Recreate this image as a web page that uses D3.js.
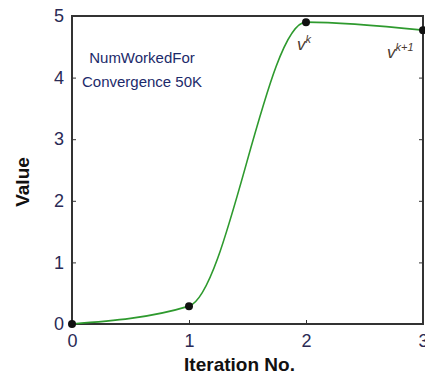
<!DOCTYPE html>
<html>
<head>
<meta charset="utf-8">
<script src="https://cdn.jsdelivr.net/npm/d3@7"></script>
<style>
  body { margin: 0; background: #fff; }
  text { font-family: Arial, "Liberation Sans", sans-serif; }
</style>
</head>
<body>
<div id="chart"></div>
<script>
// data
const iterations = [0, 1, 2, 3];
const values = [0, 0.29, 4.9, 4.77];
const xTicks = [0, 1, 2, 3];
const yTicks = [0, 1, 2, 3, 4, 5];
const pointLabels = [{ i: 2, base: "v", sup: "k" }, { i: 3, base: "v", sup: "k+1" }];
const noteLines = ["NumWorkedFor", "Convergence 50K"];

const width = 425, height = 378;
const margin = { top: 16, right: 2, bottom: 54, left: 72 };
const w = width - margin.left - margin.right;
const h = height - margin.top - margin.bottom;

const svg = d3.select("#chart").append("svg")
  .attr("width", width)
  .attr("height", height);

const g = svg.append("g")
  .attr("transform", "translate(" + margin.left + "," + margin.top + ")");

const x = d3.scaleLinear().domain([0, 3]).range([0, w]);
const y = d3.scaleLinear().domain([0, 5]).range([h, 0]);

const tickColor = "#2a2a55";

// frame
g.append("rect")
  .attr("width", w).attr("height", h)
  .attr("fill", "none").attr("stroke", "#333").attr("stroke-width", 2);

// x axis (ticks inward)
const xAxis = g.append("g")
  .attr("transform", "translate(0," + h + ")")
  .call(d3.axisBottom(x).tickValues(xTicks).tickFormat(d3.format("d")).tickSizeInner(-4).tickSizeOuter(0).tickPadding(10));
xAxis.select(".domain").remove();
xAxis.selectAll("text").attr("font-size", 18).attr("fill", tickColor);
xAxis.selectAll("line").attr("stroke", "#333");

const yAxis = g.append("g")
  .call(d3.axisLeft(y).tickValues(yTicks).tickFormat(d3.format("d")).tickSizeInner(-4).tickSizeOuter(0).tickPadding(8));
yAxis.select(".domain").remove();
yAxis.selectAll("text").attr("font-size", 18).attr("fill", tickColor);
yAxis.selectAll("line").attr("stroke", "#333");

// right side ticks
const yAxisR = g.append("g")
  .attr("transform", "translate(" + w + ",0)")
  .call(d3.axisRight(y).tickValues(yTicks).tickFormat("").tickSizeInner(-4).tickSizeOuter(0));
yAxisR.select(".domain").remove();
yAxisR.selectAll("line").attr("stroke", "#333");

// curve
const pts = iterations.map((d, i) => [d, values[i]]);
const line = d3.line()
  .x(d => x(d[0]))
  .y(d => y(d[1]))
  .curve(d3.curveMonotoneX);

g.append("path")
  .datum(pts)
  .attr("fill", "none")
  .attr("stroke", "#2e9a2e")
  .attr("stroke-width", 1.6)
  .attr("d", line);

// markers
g.selectAll(".pt")
  .data(pts)
  .enter().append("circle")
  .attr("class", "pt")
  .attr("cx", d => x(d[0]))
  .attr("cy", d => y(d[1]))
  .attr("r", 4)
  .attr("fill", "#111");

// point labels
pointLabels.forEach(p => {
  const t = g.append("text")
    .attr("x", x(iterations[p.i]) - (p.i === 3 ? 36 : 9))
    .attr("y", y(values[p.i]) + 28)
    .attr("font-family", "'Times New Roman', 'Liberation Serif', serif")
    .attr("font-style", "italic")
    .attr("font-size", 17)
    .attr("fill", "#4a3a30");
  t.append("tspan").text(p.base);
  t.append("tspan").attr("dy", -7).attr("font-size", 11).text(p.sup);
});

// note text
noteLines.forEach((s, i) => {
  g.append("text")
    .attr("x", 70)
    .attr("y", 47 + i * 24)
    .attr("text-anchor", "middle")
    .attr("font-size", 15)
    .attr("fill", "#1c2a6a")
    .text(s);
});

// axis titles
svg.append("text")
  .attr("x", margin.left + w / 2 - 8)
  .attr("y", height - 7)
  .attr("text-anchor", "middle")
  .attr("font-size", 19)
  .attr("font-weight", "bold")
  .attr("fill", "#111")
  .text("Iteration No.");

svg.append("text")
  .attr("transform", "translate(29," + (margin.top + h / 2 + 12) + ") rotate(-90)")
  .attr("text-anchor", "middle")
  .attr("font-size", 19)
  .attr("font-weight", "bold")
  .attr("fill", "#111")
  .text("Value");
</script>
</body>
</html>
